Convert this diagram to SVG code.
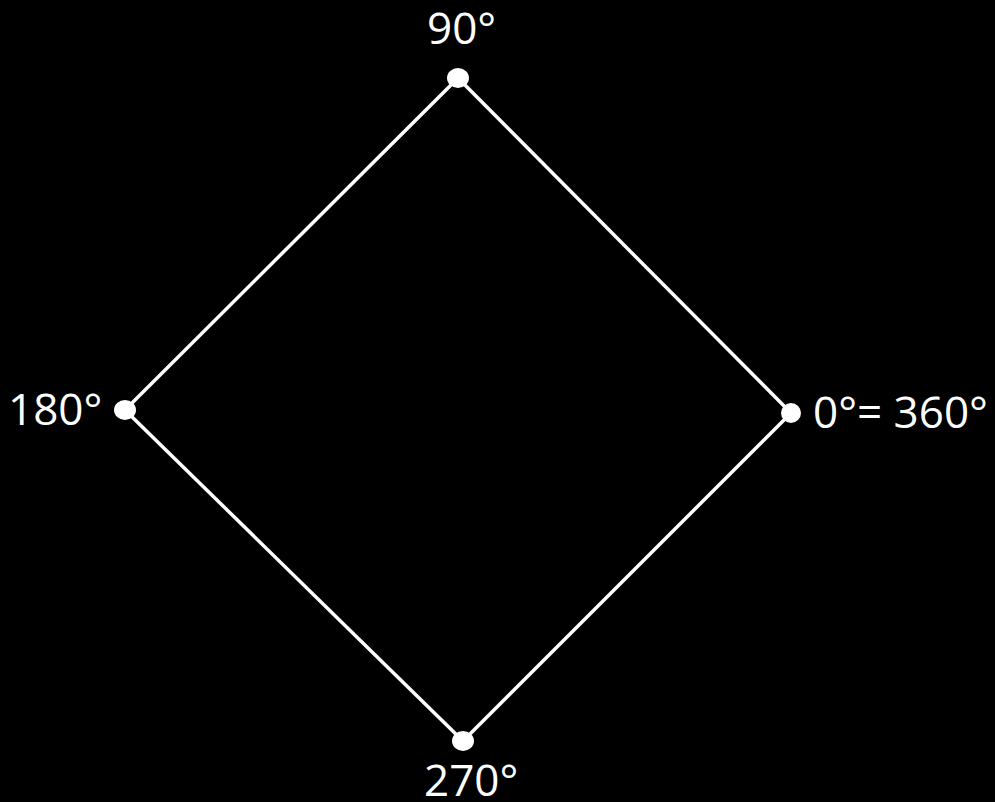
<svg xmlns="http://www.w3.org/2000/svg" width="995" height="802" viewBox="0 0 995 802">
<style>
.lbl{font-family:"Open Sans","Liberation Sans",sans-serif;font-size:44px;fill:#fff}
.edge{stroke:#fff;stroke-width:3.5;fill:none}
.dot{fill:#fff}
</style>
<rect width="995" height="802" fill="#000"/>
<g id="connectors">
<path class="edge" d="M458,78 L791,413 L463,741 L125,410 Z"/>
</g>
<g id="n90"><ellipse class="dot" cx="458" cy="78" rx="11" ry="10"/><text class="lbl" x="427" y="44">90°</text></g>
<g id="n180"><ellipse class="dot" cx="125" cy="410" rx="11" ry="10"/><text class="lbl" x="8" y="425">180°</text></g>
<g id="n0"><ellipse class="dot" cx="791" cy="413" rx="10" ry="10"/><text class="lbl" x="813" y="428">0°= 360°</text></g>
<g id="n270"><ellipse class="dot" cx="463" cy="741" rx="11" ry="10"/><text class="lbl" x="424" y="796">270°</text></g>
</svg>
